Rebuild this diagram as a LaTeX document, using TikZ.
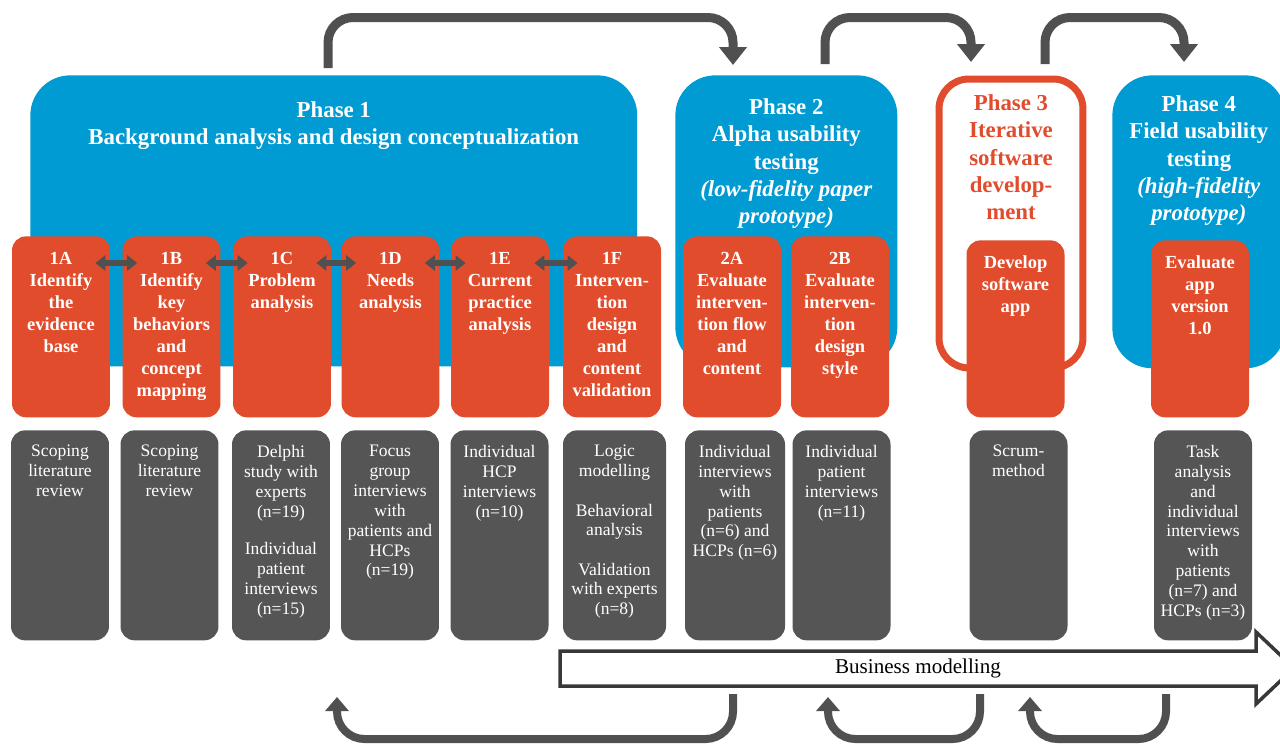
\documentclass[tikz,border=0pt]{standalone}
\usepackage{fontspec}
\setmainfont{Liberation Serif}
\usetikzlibrary{arrows.meta,calc,positioning}

\definecolor{phaseblue}{RGB}{0,155,210}
\definecolor{steporange}{RGB}{224,76,44}
\definecolor{methodgray}{RGB}{85,85,85}
\definecolor{arrowgray}{RGB}{80,80,80}

\begin{document}
\begin{tikzpicture}
[
	                x = 0.02cm,
	                y = -0.02cm,
	     phase/.style = { fill=phaseblue, rounded corners=0.8cm, anchor=north west, inner sep=0pt },
	 phaseloop/.style = { draw=steporange, line width=0.14cm, rounded corners=0.6cm, anchor=north west, inner sep=0pt },
	 phasetext/.style = { anchor=north, inner sep=0pt, align=center, text=white, font=\fontsize{13}{15.5}\selectfont\bfseries },
	     stage/.style = { fill=steporange, rounded corners=0.28cm, anchor=north, inner sep=0pt, minimum width=1.96cm, minimum height=3.62cm },
	 stagetext/.style = { anchor=north, inner sep=0pt, align=center, text=white, font=\fontsize{10.5}{12.5}\selectfont\bfseries },
	    method/.style = { fill=methodgray, rounded corners=0.28cm, anchor=north, inner sep=0pt, minimum width=1.96cm, minimum height=4.2cm },
	methodtext/.style = { anchor=north, inner sep=0pt, align=center, text=white, font=\fontsize{10}{11.3}\selectfont },
	  linkarrow/.style = { draw=arrowgray, line width=0.11cm, {Triangle[width=0.3cm,length=0.2cm]}-{Triangle[width=0.3cm,length=0.2cm]} },
	 cyclearrow/.style = { draw=arrowgray, line width=0.18cm, rounded corners=0.5cm, -{Triangle[width=0.54cm,length=0.36cm]} },
	  backarrow/.style = { draw=arrowgray, line width=0.16cm, rounded corners=0.55cm, -{Triangle[width=0.46cm,length=0.28cm]} },
	   bizarrow/.style = { draw=black!78, fill=white, line width=0.07cm }
]
	\clip (0,0) rectangle (1280,744);

	% phases
	% nodes
	\node (ph1) at (30,75)      [phase, minimum width=12.14cm, minimum height=5.82cm] {};
	\node (ph2) at (675,75)     [phase, minimum width=4.44cm, minimum height=5.84cm] {};
	\node (ph3) at (935.5,75.5) [phaseloop, minimum width=2.88cm, minimum height=5.78cm] {};
	\node (ph4) at (1112,75)    [phase, minimum width=3.46cm, minimum height=5.86cm] {};

	\node (ph1t) at ($(ph1.north)+(0,26)$)   [phasetext] {Phase 1\\Background analysis and design conceptualization};
	\node (ph2t) at ($(ph2.north)+(0,23.5)$) [phasetext] {Phase 2\\Alpha usability\\testing\\\textit{(low-fidelity paper}\\\textit{prototype)}};
	\node (ph3t) at ($(ph3.north)+(0,19)$)   [phasetext, text=steporange] {Phase 3\\Iterative\\software\\develop-\\ment};
	\node (ph4t) at ($(ph4.north)+(0,20.5)$) [phasetext] {Phase 4\\Field usability\\testing\\\textit{(high-fidelity}\\\textit{prototype)}};

	% steps
	% nodes
	\node (s1A) at (61,236)    [stage] {};
	\node (s1B) at (171.5,236) [stage] {};
	\node (s1C) at (282,236)   [stage] {};
	\node (s1D) at (390.5,236) [stage] {};
	\node (s1E) at (500,236)   [stage] {};
	\node (s1F) at (612,236)   [stage] {};
	\node (s2A) at (732,236)   [stage] {};
	\node (s2B) at (840,236)   [stage] {};
	\node (s3)  at (1015.5,240) [stage, minimum height=3.54cm] {};
	\node (s4)  at (1200,240)   [stage, minimum height=3.54cm] {};

	\node (s1At) at ($(s1A.north)+(0,16)$) [stagetext] {1A\\Identify\\the\\evidence\\base};
	\node (s1Bt) at ($(s1B.north)+(0,16)$) [stagetext] {1B\\Identify\\key\\behaviors\\and\\concept\\mapping};
	\node (s1Ct) at ($(s1C.north)+(0,16)$) [stagetext] {1C\\Problem\\analysis};
	\node (s1Dt) at ($(s1D.north)+(0,16)$) [stagetext] {1D\\Needs\\analysis};
	\node (s1Et) at ($(s1E.north)+(0,16)$) [stagetext] {1E\\Current\\practice\\analysis};
	\node (s1Ft) at ($(s1F.north)+(0,16)$) [stagetext] {1F\\Interven-\\tion\\design\\and\\content\\validation};
	\node (s2At) at ($(s2A.north)+(0,16)$) [stagetext] {2A\\Evaluate\\interven-\\tion flow\\and\\content};
	\node (s2Bt) at ($(s2B.north)+(0,16)$) [stagetext] {2B\\Evaluate\\interven-\\tion\\design\\style};
	\node (s3t)  at ($(s3.north)+(0,15)$)  [stagetext] {Develop\\software\\app};
	\node (s4t)  at ($(s4.north)+(0,15)$)  [stagetext] {Evaluate\\app\\version\\1.0};

	% edges
	\foreach \a/\b in {1A/1B,1B/1C,1C/1D,1D/1E,1E/1F}
		\draw [linkarrow] ($(s\a.north east)+(-15,27)$) -- ($(s\b.north west)+(15,27)$);

	% methods
	% nodes
	\node (m1A) at (60,430)     [method] {};
	\node (m1B) at (169.5,430)  [method] {};
	\node (m1C) at (281,430)    [method] {};
	\node (m1D) at (390,430)    [method] {};
	\node (m1E) at (499.5,430)  [method] {};
	\node (m1F) at (614.5,430)  [method, minimum width=2.06cm] {};
	\node (m2A) at (735,430)    [method, minimum width=2cm] {};
	\node (m2B) at (841.5,430)  [method] {};
	\node (m3)  at (1018.5,430) [method] {};
	\node (m4)  at (1203,430)   [method] {};

	\node (m1At) at ($(m1A.north)+(0,15)$) [methodtext] {Scoping\\literature\\review};
	\node (m1Bt) at ($(m1B.north)+(0,15)$) [methodtext] {Scoping\\literature\\review};
	\node (m1Ct) at ($(m1C.north)+(0,15)$) [methodtext] {Delphi\\study with\\experts\\(n=19)\\[10pt]Individual\\patient\\interviews\\(n=15)};
	\node (m1Dt) at ($(m1D.north)+(0,15)$) [methodtext] {Focus\\group\\interviews\\with\\patients and\\HCPs\\(n=19)};
	\node (m1Et) at ($(m1E.north)+(0,15)$) [methodtext] {Individual\\HCP\\interviews\\(n=10)};
	\node (m1Ft) at ($(m1F.north)+(0,15)$) [methodtext] {Logic\\modelling\\[11pt]Behavioral\\analysis\\[11pt]Validation\\with experts\\(n=8)};
	\node (m2At) at ($(m2A.north)+(0,15)$) [methodtext] {Individual\\interviews\\with\\patients\\(n=6) and\\HCPs (n=6)};
	\node (m2Bt) at ($(m2B.north)+(0,15)$) [methodtext] {Individual\\patient\\interviews\\(n=11)};
	\node (m3t)  at ($(m3.north)+(0,15)$)  [methodtext] {Scrum-\\method};
	\node (m4t)  at ($(m4.north)+(0,15)$)  [methodtext] {Task\\analysis\\and\\individual\\interviews\\with\\patients\\(n=7) and\\HCPs (n=3)};

	% business modelling
	\draw [bizarrow] (560,651) -- (1256,651) -- (1256,632) -- (1294,668) -- (1256,704) -- (1256,686) -- (560,686) -- cycle;
	\node (biz) at (918,668) [font=\fontsize{12}{14}\selectfont] {Business modelling};

	% iterations
	\coordinate (c1s) at (328,68);
	\coordinate (c1e) at (733,65);
	\coordinate (c2s) at (825,64);
	\coordinate (c2e) at (971,62);
	\coordinate (c3s) at (1045,64);
	\coordinate (c3e) at (1184,62);
	\draw [cyclearrow] (c1s) -- ++(0,-50.5) -| (c1e);
	\draw [cyclearrow] (c2s) -- ++(0,-46.5) -| (c2e);
	\draw [cyclearrow] (c3s) -- ++(0,-46.5) -| (c3e);

	\coordinate (r1s) at (733,694);
	\coordinate (r1e) at (337,697);
	\coordinate (r2s) at (980,694);
	\coordinate (r2e) at (828,697);
	\coordinate (r3s) at (1166,694);
	\coordinate (r3e) at (1030,697);
	\draw [backarrow] (r1s) -- ++(0,45) -| (r1e);
	\draw [backarrow] (r2s) -- ++(0,45) -| (r2e);
	\draw [backarrow] (r3s) -- ++(0,45) -| (r3e);
\end{tikzpicture}
\end{document}
